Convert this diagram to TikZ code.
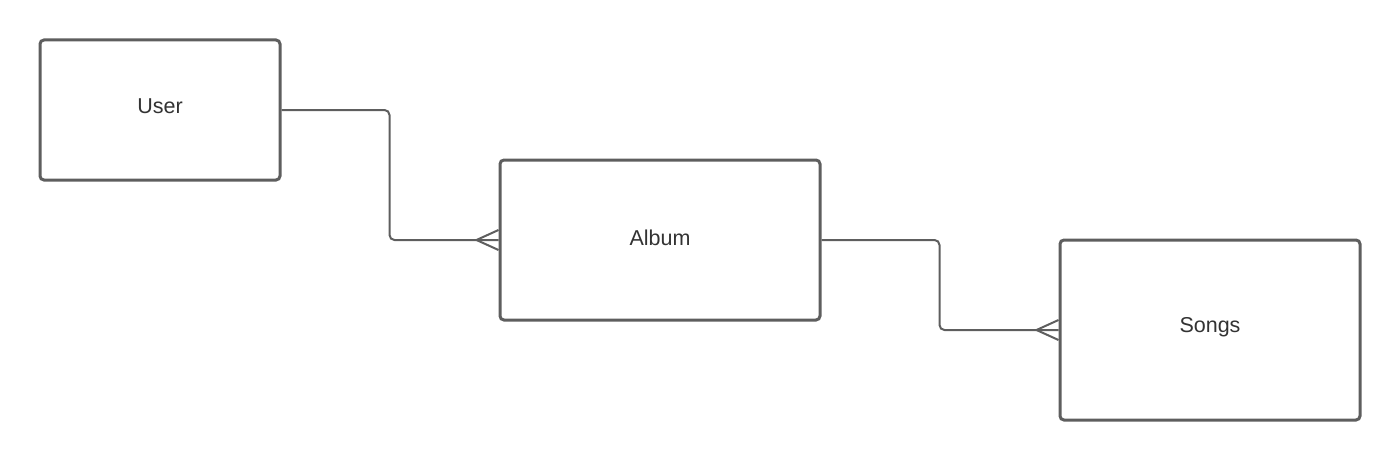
\documentclass[tikz,border=0pt]{standalone}
\usepackage{fontspec}
\setmainfont{Liberation Sans}
\definecolor{edge}{HTML}{5E5E5E}
\definecolor{txt}{HTML}{333333}
\tikzset{
  entity/.style={draw=edge, line width=3pt, rounded corners=4pt, fill=white, inner sep=0pt,
    text=txt, font=\fontsize{21.5}{25}\selectfont, text height=15.5pt, text depth=10pt},
  link/.style={draw=edge, line width=2pt, rounded corners=5pt},
  crow/.style={draw=edge, line width=2pt}
}
\begin{document}
\begin{tikzpicture}[x=1pt,y=-1pt]
\useasboundingbox (0,0) rectangle (1400,460);
\node[entity, minimum width=240pt, minimum height=140pt, text depth=9pt] (user) at (160,110) {User};
\node[entity, minimum width=320pt, minimum height=160pt, text depth=5pt] (album) at (660,240) {Album};
\node[entity, minimum width=300pt, minimum height=180pt] (songs) at (1210,330) {Songs};
\draw[link] (user.east) -- ++(108,0) |- (album.west);
\draw[link] (album.east) -- ++(118,0) |- (songs.west);
\draw[crow] ([xshift=-22pt]album.west) -- ([yshift=-10pt]album.west)
            ([xshift=-22pt]album.west) -- ([yshift=10pt]album.west);
\draw[crow] ([xshift=-22pt]songs.west) -- ([yshift=-10pt]songs.west)
            ([xshift=-22pt]songs.west) -- ([yshift=10pt]songs.west);
\end{tikzpicture}
\end{document}
